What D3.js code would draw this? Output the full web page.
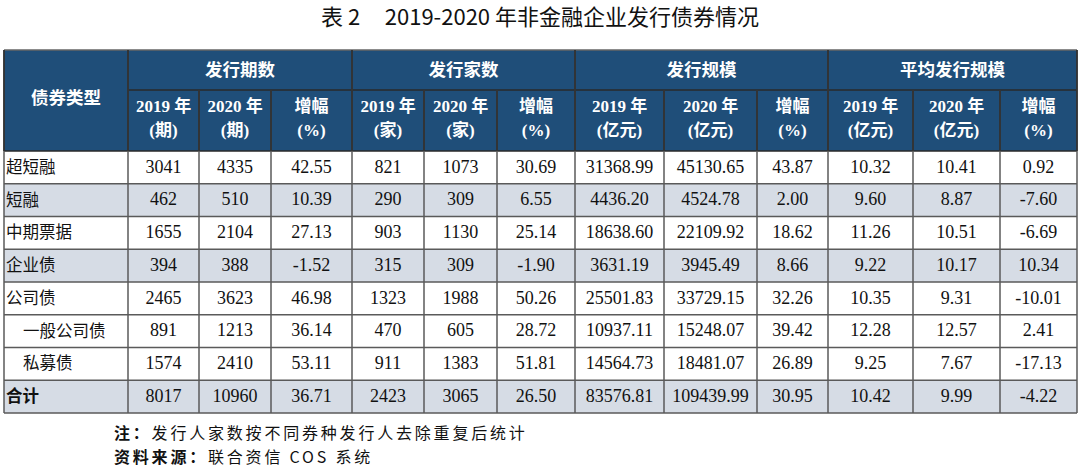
<!DOCTYPE html>
<html>
<head>
<meta charset="utf-8">
<script src="https://cdn.jsdelivr.net/npm/d3@7"></script>
<style>
  html, body { margin: 0; padding: 0; background: #ffffff; }
  svg { display: block; }
</style>
</head>
<body>
<div id="chart"></div>
<script>
// ---------------- DATA ----------------
const title = "表 2\u00a0\u00a0\u00a0\u00a0\u00a02019-2020 年非金融企业发行债券情况";
const categories = ["超短融", "短融", "中期票据", "企业债", "公司债", "一般公司债", "私募债", "合计"];
const groupNames = ["发行期数", "发行家数", "发行规模", "平均发行规模"];
const subHeaderTop = ["2019 年", "2020 年", "增幅"];
const subHeaderUnits = ["(期)", "(家)", "(亿元)", "(亿元)"];

const issues2019   = [3041, 462, 1655, 394, 2465, 891, 1574, 8017];
const issues2020   = [4335, 510, 2104, 388, 3623, 1213, 2410, 10960];
const issuesGrowth = [42.55, 10.39, 27.13, -1.52, 46.98, 36.14, 53.11, 36.71];

const issuers2019   = [821, 290, 903, 315, 1323, 470, 911, 2423];
const issuers2020   = [1073, 309, 1130, 309, 1988, 605, 1383, 3065];
const issuersGrowth = [30.69, 6.55, 25.14, -1.90, 50.26, 28.72, 51.81, 26.50];

const scale2019   = [31368.99, 4436.20, 18638.60, 3631.19, 25501.83, 10937.11, 14564.73, 83576.81];
const scale2020   = [45130.65, 4524.78, 22109.92, 3945.49, 33729.15, 15248.07, 18481.07, 109439.99];
const scaleGrowth = [43.87, 2.00, 18.62, 8.66, 32.26, 39.42, 26.89, 30.95];

const avg2019   = [10.32, 9.60, 11.26, 9.22, 10.35, 12.28, 9.25, 10.42];
const avg2020   = [10.41, 8.87, 10.51, 10.17, 9.31, 12.57, 7.67, 9.99];
const avgGrowth = [0.92, -7.60, -6.69, 10.34, -10.01, 2.41, -17.13, -4.22];

const notes = [
  { bold: "注：", text: "发行人家数按不同券种发行人去除重复后统计" },
  { bold: "资料来源：", text: "联合资信 COS 系统" }
];

// ---------------- LAYOUT ----------------
const W = 1080, H = 468;
const colEdges = [4, 128, 199, 271, 352, 424, 497, 575, 664, 757, 828, 913, 1000, 1077];
const headTop = 50, headMid = 90, headBot = 151;
const rowH = 32.75;
const headerFill = "#1f4e79";
const stripeFill = "#d6dce5";
const gridColor = "#5a5a5a";
const serif = "'Liberation Serif', 'Times New Roman', 'Noto Sans CJK SC', serif";
const cjk = "'Noto Sans CJK SC', 'Noto Sans', sans-serif";

const intFmt = d3.format("d");
const decFmt = v => (v < 0 ? "-" : "") + d3.format(".2f")(Math.abs(v));

const columns = [
  { values: issues2019, fmt: intFmt }, { values: issues2020, fmt: intFmt }, { values: issuesGrowth, fmt: decFmt },
  { values: issuers2019, fmt: intFmt }, { values: issuers2020, fmt: intFmt }, { values: issuersGrowth, fmt: decFmt },
  { values: scale2019, fmt: decFmt }, { values: scale2020, fmt: decFmt }, { values: scaleGrowth, fmt: decFmt },
  { values: avg2019, fmt: decFmt }, { values: avg2020, fmt: decFmt }, { values: avgGrowth, fmt: decFmt }
];

const striped = new Set(["短融", "企业债", "合计"]);
const indented = new Set(["一般公司债", "私募债"]);

const y = d3.scaleBand()
  .domain(categories)
  .range([headBot, headBot + rowH * categories.length])
  .paddingInner(0).paddingOuter(0);

const svg = d3.select("#chart").append("svg")
  .attr("width", W).attr("height", H);

// Title
svg.append("text")
  .attr("x", 540).attr("y", 25)
  .attr("text-anchor", "middle")
  .style("font-family", cjk)
  .style("font-size", "22px")
  .style("fill", "#111")
  .text(title);

// Header background
svg.append("rect")
  .attr("x", colEdges[0]).attr("y", headTop)
  .attr("width", colEdges[colEdges.length - 1] - colEdges[0])
  .attr("height", headBot - headTop)
  .attr("fill", headerFill);

// Body rows
const rows = svg.selectAll("g.row").data(categories).enter().append("g").attr("class", "row");
rows.append("rect")
  .attr("x", colEdges[0])
  .attr("y", d => y(d))
  .attr("width", colEdges[colEdges.length - 1] - colEdges[0])
  .attr("height", y.bandwidth())
  .attr("fill", d => striped.has(d) ? stripeFill : "#ffffff");

rows.append("text")
  .attr("x", d => colEdges[0] + (indented.has(d) ? 19 : 2))
  .attr("y", d => y(d) + y.bandwidth() / 2 + 1)
  .attr("dominant-baseline", "middle")
  .style("font-family", cjk)
  .style("font-size", "16.5px")
  .style("font-weight", d => d === "合计" ? "bold" : "normal")
  .style("fill", "#111")
  .text(d => d);

columns.forEach((col, ci) => {
  const cx = (colEdges[ci + 1] + colEdges[ci + 2]) / 2;
  svg.selectAll(null).data(categories).enter().append("text")
    .attr("x", cx)
    .attr("y", (d) => y(d) + y.bandwidth() / 2 + 1)
    .attr("text-anchor", "middle")
    .attr("dominant-baseline", "middle")
    .style("font-family", serif)
    .style("font-size", "18px")
    .style("fill", "#111")
    .text((d, i) => col.fmt(col.values[i]));
});

// Header texts
svg.append("text")
  .attr("x", (colEdges[0] + colEdges[1]) / 2)
  .attr("y", (headTop + headBot) / 2 - 1)
  .attr("text-anchor", "middle").attr("dominant-baseline", "middle")
  .style("font-family", cjk).style("font-size", "17.5px").style("font-weight", "bold")
  .style("fill", "#fff").text("债券类型");

groupNames.forEach((g, gi) => {
  const x0 = colEdges[1 + gi * 3], x1 = colEdges[1 + gi * 3 + 3];
  svg.append("text")
    .attr("x", (x0 + x1) / 2).attr("y", (headTop + headMid) / 2 + 1)
    .attr("text-anchor", "middle").attr("dominant-baseline", "middle")
    .style("font-family", cjk).style("font-size", "17.5px").style("font-weight", "bold")
    .style("fill", "#fff").text(g);
  subHeaderTop.forEach((s, si) => {
    const cx = (colEdges[1 + gi * 3 + si] + colEdges[2 + gi * 3 + si]) / 2;
    svg.append("text")
      .attr("x", cx).attr("y", headMid + 18)
      .attr("text-anchor", "middle").attr("dominant-baseline", "middle")
      .style("font-family", serif).style("font-size", "17px").style("font-weight", "bold")
      .style("fill", "#fff").text(s);
    svg.append("text")
      .attr("x", cx).attr("y", headMid + 42)
      .attr("text-anchor", "middle").attr("dominant-baseline", "middle")
      .style("font-family", serif).style("font-size", "17px").style("font-weight", "bold")
      .style("fill", "#fff").text(si === 2 ? "(%)" : subHeaderUnits[gi]);
  });
});

// Grid lines
const bottom = headBot + rowH * categories.length;
const lineG = svg.append("g").attr("stroke", gridColor).attr("stroke-width", 1.5);
lineG.append("line").attr("x1", colEdges[0]).attr("x2", colEdges[13]).attr("y1", headTop).attr("y2", headTop).attr("stroke", "#666");
lineG.append("line").attr("x1", colEdges[1]).attr("x2", colEdges[13]).attr("y1", headMid).attr("y2", headMid).attr("stroke", "#2a2a2a");
lineG.append("line").attr("x1", colEdges[0]).attr("x2", colEdges[13]).attr("y1", headBot).attr("y2", headBot).attr("stroke", "#2a2a2a");
categories.forEach(c => {
  lineG.append("line").attr("x1", colEdges[0]).attr("x2", colEdges[13])
    .attr("y1", y(c) + y.bandwidth()).attr("y2", y(c) + y.bandwidth());
});
colEdges.forEach((x, i) => {
  const isGroup = (i - 1) % 3 === 0 || i === 0 || i === 13;
  lineG.append("line")
    .attr("x1", x).attr("x2", x)
    .attr("y1", isGroup ? headTop : headMid)
    .attr("y2", bottom)
    .attr("stroke", gridColor);
  lineG.append("line")
    .attr("x1", x).attr("x2", x)
    .attr("y1", isGroup ? headTop : headMid)
    .attr("y2", headBot)
    .attr("stroke", "#2a2a2a");
});

// Notes
notes.forEach((n, i) => {
  const t = svg.append("text")
    .attr("x", 114).attr("y", 439 + i * 24)
    .style("font-family", cjk).style("font-size", "16px")
    .style("letter-spacing", "2.8px")
    .style("fill", "#111");
  t.append("tspan").style("font-weight", "bold").text(n.bold);
  t.append("tspan").text(n.text);
});
</script>
</body>
</html>
